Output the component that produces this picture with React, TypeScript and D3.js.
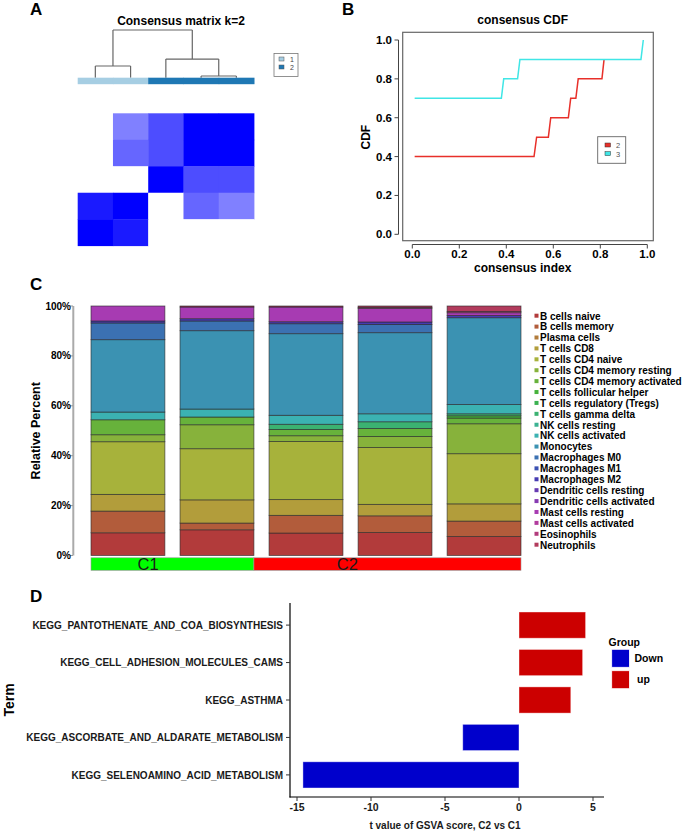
import React from "react";
import * as d3 from "d3";

const W = 685, H = 831;
const FONT = "'Liberation Sans', Arial, Helvetica, sans-serif";

// ---- panel A: consensus matrix k=2 ----
const consensusRows = [
  [0, 0.5, 0.7, 1, 1],
  [0, 0.6, 0.7, 1, 1],
  [0, 0, 1, 0.7, 0.7],
  [0.9, 1, 0, 0.6, 0.5],
  [1, 0.9, 0, 0, 0],
];
const sampleCluster = [1, 1, 2, 2, 2];
const clusterColors = ["#a6cee3", "#1f78b4"];
// merge tree, heights are 1 - consensus
const dendroTree: any = {
  h: 1,
  children: [
    { h: 0.245, children: [{ leaf: 0 }, { leaf: 1 }] },
    { h: 0.39, children: [{ leaf: 2 }, { h: 0.036, children: [{ leaf: 3 }, { leaf: 4 }] }] },
  ],
};

// ---- panel B: consensus CDF ----
const cdfK2x = [0.01, 0.518, 0.529, 0.579, 0.589, 0.664, 0.674, 0.696, 0.706, 0.807, 0.816];
const cdfK2y = [0.4, 0.4, 0.5, 0.5, 0.6, 0.6, 0.7, 0.7, 0.8, 0.8, 0.9];
const cdfK3x = [0.01, 0.379, 0.389, 0.448, 0.458, 0.973, 0.983];
const cdfK3y = [0.7, 0.7, 0.8, 0.8, 0.9, 0.9, 1.0];
const cdfKs = ["2", "3"];
const cdfColors = ["#e8302a", "#40e6e6"];

// ---- panel C: immune cell fractions ----
const cellTypes = [
  "B cells naive", "B cells memory", "Plasma cells", "T cells CD8", "T cells CD4 naive",
  "T cells CD4 memory resting", "T cells CD4 memory activated", "T cells follicular helper",
  "T cells regulatory (Tregs)", "T cells gamma delta", "NK cells resting", "NK cells activated",
  "Monocytes", "Macrophages M0", "Macrophages M1", "Macrophages M2", "Dendritic cells resting",
  "Dendritic cells activated", "Mast cells resting", "Mast cells activated", "Eosinophils", "Neutrophils",
];
const sampleNames = ["S1", "S2", "S3", "S4", "S5"];
const sampleGroup = ["C1", "C1", "C2", "C2", "C2"];
const groupNames = ["C1", "C2"];
const groupColors = ["#00ff00", "#ff0000"];
const sample1 = [9.1, 8.7, 0, 6.7, 21.1, 2.8, 6.0, 0, 0, 0, 0, 3.1, 29.0, 6.7, 0, 0.8, 0, 0, 6.0, 0, 0, 0];
const sample2 = [10.3, 2.7, 0, 9.3, 20.5, 9.6, 3.1, 0, 0, 0, 0, 3.2, 31.4, 3.9, 0, 0.9, 0, 0, 4.7, 0, 0, 0.4];
const sample3 = [9.0, 7.1, 0, 6.3, 23.3, 2.3, 2.5, 0, 0, 2.1, 0, 3.6, 32.7, 4.0, 0, 0.8, 0, 0, 5.9, 0, 0, 0.4];
const sample4 = [9.2, 6.7, 0, 4.6, 22.8, 4.4, 3.2, 0, 0, 2.7, 0, 3.2, 32.5, 3.3, 0, 1.0, 0, 0, 5.5, 0, 0.4, 0.5];
const sample5 = [7.6, 6.2, 0, 6.9, 20.1, 12.0, 2.3, 0.9, 0, 0.8, 0, 3.7, 34.8, 0, 0, 0.9, 0, 0, 1.1, 0, 0.5, 2.2];
const percentTicks = [0, 20, 40, 60, 80, 100];

// ---- panel D: GSVA t values ----
const gsvaTerms = [
  "KEGG_PANTOTHENATE_AND_COA_BIOSYNTHESIS",
  "KEGG_CELL_ADHESION_MOLECULES_CAMS",
  "KEGG_ASTHMA",
  "KEGG_ASCORBATE_AND_ALDARATE_METABOLISM",
  "KEGG_SELENOAMINO_ACID_METABOLISM",
];
const gsvaT = [4.5, 4.3, 3.5, -3.8, -14.6];
const gsvaGroup = ["up", "up", "up", "Down", "Down"];
const gsvaLegend = ["Down", "up"];
const gsvaColors = ["#0000cc", "#cc0000"];
const gsvaTicks = [-15, -10, -5, 0, 5];

const cellColor = (i: number) => d3.hsl((i * 360) / cellTypes.length, 0.5, 0.466).formatHex();

function PanelA() {
  const x = d3.scaleBand<number>().domain(d3.range(5)).range([77.7, 254]);
  const y = d3.scaleBand<number>().domain(d3.range(5)).range([113.3, 245.7]);
  const hY = d3.scaleLinear().domain([0, 1]).range([77.7, 30]);
  const fill = d3.interpolateRgb("#ffffff", "#0000ff");
  const lines: JSX.Element[] = [];
  const walk = (n: any): { cx: number; h: number } => {
    if (n.leaf !== undefined) return { cx: x(n.leaf)! + x.bandwidth() / 2, h: 0 };
    const kids = n.children.map(walk);
    const xs = kids.map((k: any) => k.cx);
    lines.push(<line key={`h${lines.length}`} x1={xs[0]} x2={xs[1]} y1={hY(n.h)} y2={hY(n.h)} />);
    kids.forEach((k: any) => lines.push(<line key={`v${lines.length}`} x1={k.cx} x2={k.cx} y1={hY(n.h)} y2={hY(k.h)} />));
    return { cx: d3.mean(xs)!, h: n.h };
  };
  walk(dendroTree);
  return (
    <g fontFamily={FONT}>
      <text x={30} y={15} fontSize={17} fontWeight="bold">A</text>
      <text x={181} y={25} fontSize={12} fontWeight="bold" textAnchor="middle">Consensus matrix k=2</text>
      <g stroke="#666" strokeWidth={1.2} fill="none">{lines}</g>
      {sampleCluster.map((c, i) => (
        <rect key={i} x={x(i)} y={77.7} width={x.bandwidth() + 0.5} height={6.5} fill={clusterColors[c - 1]} />
      ))}
      {consensusRows.map((row, r) =>
        row.map((v, c) => (
          <rect key={`${r}-${c}`} x={x(c)} y={y(r)} width={x.bandwidth() + 0.4} height={y.bandwidth() + 0.4} fill={fill(v)} />
        ))
      )}
      <rect x={274} y={53.5} width={24} height={23} fill="white" stroke="#777" strokeWidth={0.8} />
      {clusterColors.map((c, i) => (
        <g key={i}>
          <rect x={279} y={57 + i * 8} width={5} height={4} fill={c} stroke="#555" strokeWidth={0.5} />
          <text x={290} y={61.5 + i * 8} fontSize={7} fill="#444">{i + 1}</text>
        </g>
      ))}
    </g>
  );
}

function PanelB() {
  const x = d3.scaleLinear().domain([0, 1]).range([412.3, 647.3]);
  const y = d3.scaleLinear().domain([0, 1]).range([234.3, 40]);
  const ticks = d3.range(0, 1.01, 0.2);
  const fmt = d3.format(".1f");
  const line = d3.line<[number, number]>().x((d) => x(d[0])).y((d) => y(d[1]));
  const series = [d3.zip(cdfK2x, cdfK2y), d3.zip(cdfK3x, cdfK3y)] as [number, number][][];
  return (
    <g fontFamily={FONT}>
      <text x={342} y={15} fontSize={17} fontWeight="bold">B</text>
      <text x={522.7} y={24} fontSize={12} fontWeight="bold" textAnchor="middle">consensus CDF</text>
      {series.map((s, i) => (
        <path key={i} d={line(s)!} fill="none" stroke={cdfColors[i]} strokeWidth={1.5} />
      ))}
      <rect x={402.7} y={32.3} width={250.6} height={208.4} fill="none" stroke="#666" strokeWidth={1.2} />
      <g stroke="#444" strokeWidth={1}>
        <line x1={x(0)} x2={x(1)} y1={244.5} y2={244.5} />
        <line x1={398.5} x2={398.5} y1={y(0)} y2={y(1)} />
        {ticks.map((t) => <line key={`x${t}`} x1={x(t)} x2={x(t)} y1={244.5} y2={248.5} />)}
        {ticks.map((t) => <line key={`y${t}`} x1={394.5} x2={398.5} y1={y(t)} y2={y(t)} />)}
      </g>
      {ticks.map((t) => (
        <text key={`xl${t}`} x={x(t)} y={258} fontSize={11.5} fontWeight="bold" textAnchor="middle">{fmt(t)}</text>
      ))}
      {ticks.map((t) => (
        <text key={`yl${t}`} x={392} y={y(t) + 4} fontSize={11.5} fontWeight="bold" textAnchor="end">{fmt(t)}</text>
      ))}
      <text x={522.7} y={272} fontSize={12} fontWeight="bold" textAnchor="middle">consensus index</text>
      <text transform={`translate(370,${y(0.5)}) rotate(-90)`} fontSize={12} fontWeight="bold" textAnchor="middle">CDF</text>
      <rect x={597.7} y={136.7} width={28} height={26.6} fill="white" stroke="#666" strokeWidth={0.9} />
      {cdfKs.map((k, i) => (
        <g key={k}>
          <rect x={605} y={143 + i * 8.6} width={5.5} height={4} fill={cdfColors[i]} stroke="#333" strokeWidth={0.5} />
          <text x={616} y={148 + i * 8.6} fontSize={7.5} fill="#555">{k}</text>
        </g>
      ))}
    </g>
  );
}

function PanelC() {
  const samples = [sample1, sample2, sample3, sample4, sample5];
  const rows = sampleNames.map((s, i) => {
    const o: any = { sample: s };
    cellTypes.forEach((c, j) => (o[c] = samples[i][j]));
    return o;
  });
  const stack = d3.stack<any>().keys(cellTypes)(rows);
  const x = d3.scaleBand<string>().domain(sampleNames).range([91, 521]).paddingInner(0.17);
  const y = d3.scaleLinear().domain([0, 100]).range([555.5, 306]);
  const legY = d3.scalePoint<string>().domain(cellTypes).range([316, 545]);
  // group strip spans: each group runs up to the right edge of its last sample
  let prev = x(sampleNames[0])!;
  const strips = groupNames.map((g) => {
    const idx = sampleGroup.map((sg, i) => (sg === g ? i : -1)).filter((i) => i >= 0);
    const right = x(sampleNames[idx[idx.length - 1]])! + x.bandwidth();
    const s = { g, x0: prev, x1: right };
    prev = right;
    return s;
  });
  return (
    <g fontFamily={FONT}>
      <text x={30} y={290} fontSize={17} fontWeight="bold">C</text>
      {stack.map((ser, i) =>
        ser.map((d, j) =>
          d[1] - d[0] > 0 ? (
            <rect key={`${i}-${j}`} x={x(sampleNames[j])} y={y(d[1])} width={x.bandwidth()} height={y(d[0]) - y(d[1])}
              fill={cellColor(i)} stroke="#2a2a2a" strokeOpacity={0.75} strokeWidth={0.8} />
          ) : null
        )
      )}
      <line x1={73.3} x2={73.3} y1={y(0)} y2={y(100)} stroke="#aaa" strokeWidth={2} />
      {percentTicks.map((t) => (
        <g key={t}>
          <line x1={70} x2={73} y1={y(t)} y2={y(t)} stroke="#999" strokeWidth={1} />
          <text x={71} y={y(t) + 3.5} fontSize={10} fontWeight="bold" textAnchor="end">{t}%</text>
        </g>
      ))}
      <text transform={`translate(40,${y(50)}) rotate(-90)`} fontSize={12.5} fontWeight="bold" textAnchor="middle">Relative Percent</text>
      {strips.map((s, i) => (
        <g key={s.g}>
          <rect x={s.x0} y={557.8} width={s.x1 - s.x0} height={12.5} fill={groupColors[i]} stroke="#999" strokeWidth={0.6} />
          <text x={s.x0 + (s.x1 - s.x0) * 0.35} y={570} fontSize={16.5} textAnchor="middle" fill="#1a1a1a">{s.g}</text>
        </g>
      ))}
      {cellTypes.map((c, i) => (
        <g key={c}>
          <rect x={534.5} y={legY(c)! - 2.3} width={4} height={4} fill={cellColor(i)} />
          <text x={540} y={legY(c)! + 3.5} fontSize={10} fontWeight="bold">{c}</text>
        </g>
      ))}
    </g>
  );
}

function PanelD() {
  const x = d3.scaleLinear().domain([-15, 5]).range([297, 593]);
  const y = d3.scaleBand<string>().domain(gsvaTerms).range([603, 797]).paddingInner(0.3).paddingOuter(0.24);
  const color = (g: string) => gsvaColors[gsvaLegend.indexOf(g)];
  return (
    <g fontFamily={FONT}>
      <text x={30} y={602} fontSize={17} fontWeight="bold">D</text>
      {gsvaTerms.map((t, i) => (
        <rect key={t} x={x(Math.min(0, gsvaT[i]))} y={y(t)} width={Math.abs(x(gsvaT[i]) - x(0))} height={y.bandwidth()}
          fill={color(gsvaGroup[i])} stroke="#ffffff" strokeOpacity={0.5} strokeWidth={0.8} />
      ))}
      <line x1={290} x2={290} y1={603} y2={797.5} stroke="#000" strokeWidth={1.2} />
      <line x1={289.5} x2={604} y1={797} y2={797} stroke="#000" strokeWidth={1.2} />
      {gsvaTerms.map((t) => (
        <g key={t}>
          <line x1={286} x2={290} y1={y(t)! + y.bandwidth() / 2} y2={y(t)! + y.bandwidth() / 2} stroke="#333" />
          <text x={283} y={y(t)! + y.bandwidth() / 2 + 3.6} fontSize={10} fontWeight="bold" textAnchor="end" fill="#1a1a1a">{t}</text>
        </g>
      ))}
      {gsvaTicks.map((t) => (
        <g key={t}>
          <line x1={x(t)} x2={x(t)} y1={797} y2={801} stroke="#333" />
          <text x={x(t)} y={811} fontSize={10.5} fontWeight="bold" textAnchor="middle" fill="#1a1a1a">{t}</text>
        </g>
      ))}
      <text x={445} y={829} fontSize={10} fontWeight="bold" textAnchor="middle" fill="#1a1a1a">t value of GSVA score, C2 vs C1</text>
      <text transform={`translate(14,700) rotate(-90)`} fontSize={14} fontWeight="bold" textAnchor="middle">Term</text>
      <text x={608.5} y={646} fontSize={10.5} fontWeight="bold">Group</text>
      {gsvaLegend.map((g, i) => (
        <g key={g}>
          <rect x={611.7} y={649.3 + i * 21.4} width={17.7} height={18} fill={gsvaColors[i]} stroke="#fff" strokeWidth={0.8} />
          <text x={i === 0 ? 634.5 : 637} y={662 + i * 21.4} fontSize={10.5} fontWeight="bold">{g}</text>
        </g>
      ))}
    </g>
  );
}

export default function App() {
  return (
    <svg width={W} height={H} style={{ display: "block", position: "absolute", left: 0, top: 0, background: "white" }}>
      <PanelA />
      <PanelB />
      <PanelC />
      <PanelD />
    </svg>
  );
}
